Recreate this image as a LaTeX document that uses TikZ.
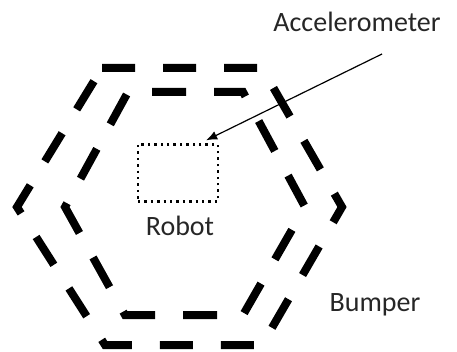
\documentclass[tikz,border=0pt]{standalone}
\usepackage{fontspec}
\setmainfont{Carlito}
\usetikzlibrary{arrows.meta}

\begin{document}
\begin{tikzpicture}[
    x=1pt, y=-1pt,  % Unités en points, axe y vers le bas
    % Réglages des traits du pare-chocs et du capteur
    bumper/.style={line width=8pt, dash pattern=on 34pt off 28pt, line join=miter},
    sensor/.style={draw, line width=2.4pt, dash pattern=on 2.4pt off 4pt, minimum width=80pt, minimum height=57pt},
    label/.style={font=\fontsize{28}{32}\selectfont, text=black!85},
    every node/.style={inner sep=0pt}
]
\useasboundingbox (0,0) rectangle (457,352);
% Pare-chocs extérieur
\draw[bumper, dash pattern=on 33pt off 28pt] (102,68) -- (262,68) -- (342,207) -- (262,345) -- (105,345) -- (17,207) -- cycle;
% Pare-chocs intérieur
\draw[bumper, dash phase=38pt] (128,92) -- (243,92) -- (305,207) -- (243,315) -- (125,315) -- (65,207) -- cycle;
% Capteur et textes
\node[sensor] (accel) at (178,173) {};
\node[label] (robot) at (180,226) {Robot};
\node[label] (bump) at (375,305) {Bumper};
\node[label] (acc) at (357,22) {Accelerometer};
\coordinate (tail) at (382,54);
\draw[-{Latex[length=11pt, width=9pt]}, line width=1.2pt] (tail) -- ([xshift=-13pt, yshift=3pt]accel.north east);
\end{tikzpicture}
\end{document}
